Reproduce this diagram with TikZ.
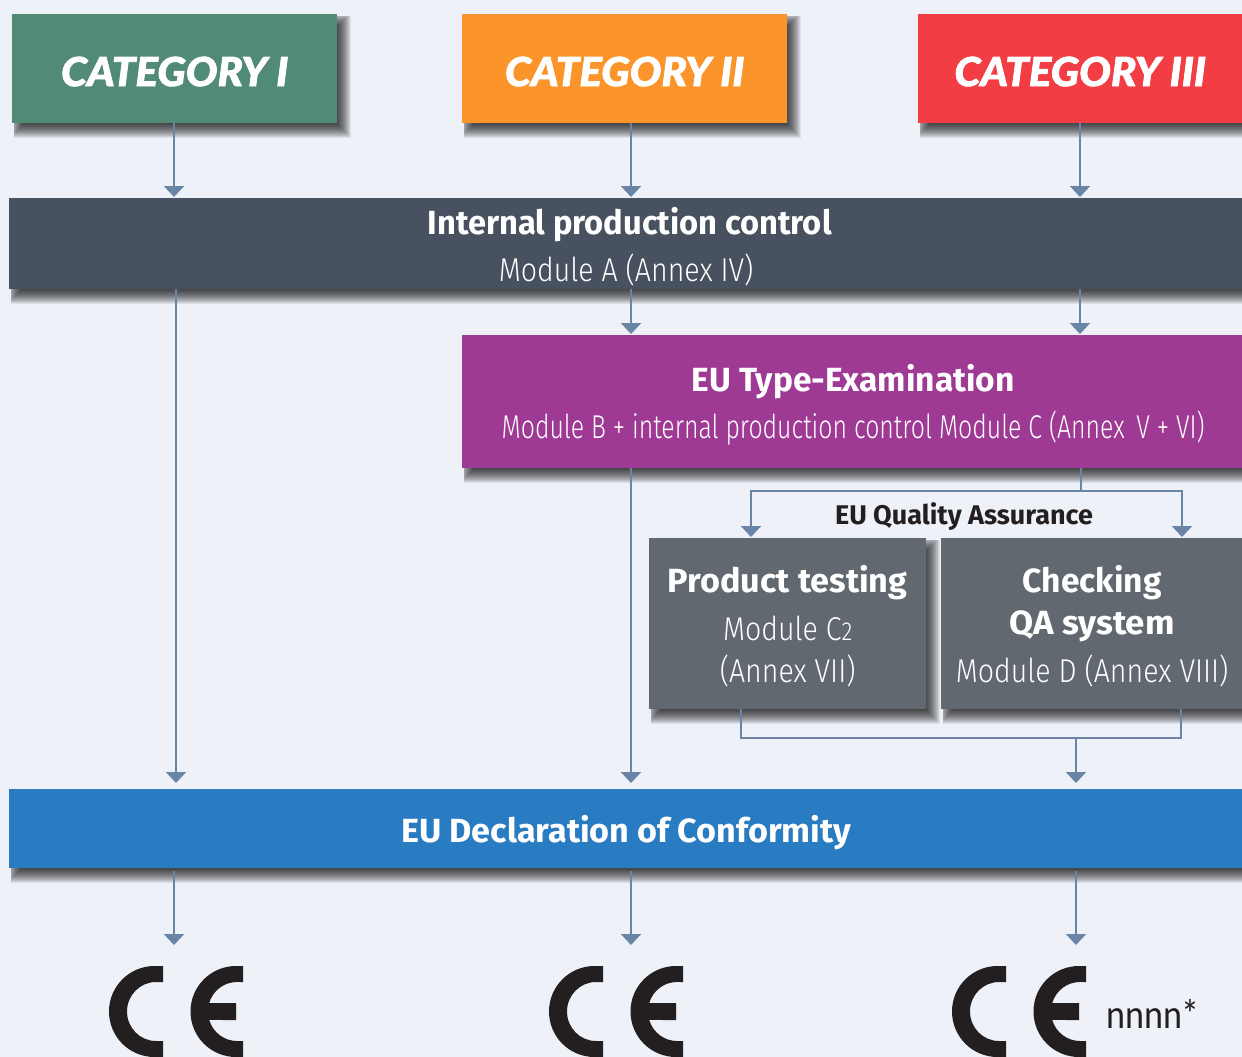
\documentclass[tikz,border=0pt]{standalone}
\usepackage{fontspec}
\usepackage{graphicx}
\usetikzlibrary{arrows.meta,calc}
\setmainfont{Fira Sans}
\newfontfamily\catfont[FakeBold=2,FakeStretch=1.05]{Lato Black Italic}
\newfontfamily\headfont{Fira Sans}
\newfontfamily\bodyfont[FakeStretch=0.865]{Fira Sans Light}
\newfontfamily\markfont[FakeStretch=0.88]{Carlito}
\newcommand{\hd}[1]{{\headfont\bfseries\fontsize{33.5}{33.5}\selectfont #1}}
\newcommand{\hdx}[2]{{\headfont\bfseries\fontsize{33.5}{33.5}\selectfont\scalebox{#1}[1]{#2}}}
\newcommand{\bd}[1]{{\bodyfont\fontsize{33}{33}\selectfont #1}}
\newcommand{\lift}[1]{\rule{0pt}{#1pt}}
\newcommand{\softshadow}[4]{%
  \foreach \d in {8,7,...,-6}{%
    \fill[black,opacity=.075] ({#1+max(2,6-\d)},{#2+max(2,7-\d)}) rectangle ({#1+#3+6+\d},{#2+#4+7+\d});
  }}
\definecolor{bgc}{HTML}{EEF1F7}
\definecolor{greenc}{HTML}{528B75}
\definecolor{orangec}{HTML}{FB952B}
\definecolor{redc}{HTML}{F23D45}
\definecolor{darkc}{HTML}{475160}
\definecolor{purplec}{HTML}{9E3A94}
\definecolor{greyc}{HTML}{626870}
\definecolor{bluec}{HTML}{2A7CC2}
\definecolor{linec}{HTML}{6A84A6}
\definecolor{inkc}{HTML}{231F20}
\tikzset{
  box/.style={rectangle,anchor=north west,inner sep=0pt,text=white,align=center,
    font=\fontsize{33}{42}\selectfont},
  cathead/.style={box,font=\catfont\fontsize{40}{40}\selectfont},
  conn/.style={draw=linec,line width=2.4pt},
  arr/.style={conn,-{Triangle[width=20pt,length=11pt,fill=linec]}},
  cemark/.pic={
    \fill[inkc] (54,0) -- (45.5,0) arc[start angle=270,end angle=90,radius=45.5] -- (54,91)
      -- (54,75) -- (47,75) arc[start angle=90,end angle=270,x radius=29,y radius=29.5] -- (54,16) -- cycle;
    \fill[inkc] (134,0) -- (127,0) arc[start angle=270,end angle=90,radius=45.5] -- (134,91)
      -- (134,75) -- (128,75) arc[start angle=90,end angle=163.3,x radius=29,y radius=29.5]
      -- (127,54) -- (127,37) -- (100.2,37) arc[start angle=196.7,end angle=270,x radius=29,y radius=29.5]
      -- (134,16) -- cycle;
  },
}
\begin{document}
\begin{tikzpicture}[x=1pt,y=-1pt]
\clip (0,0) rectangle (1242,1057);
\fill[bgc] (0,0) rectangle (1242,1057);

\coordinate (colA) at (174,0);
\coordinate (colAb) at (176,0);
\coordinate (colB) at (631,0);
\coordinate (colC) at (1080,0);
\coordinate (colD) at (1076,0);
\coordinate (colE) at (1081,0);

\softshadow{12}{14}{325}{109}
\node[cathead,fill=greenc,minimum width=325pt,minimum height=109pt] (cat1) at (12,14) {\lift{35}CATEGORY I};
\softshadow{462}{14}{325}{109}
\node[cathead,fill=orangec,minimum width=325pt,minimum height=109pt] (cat2) at (462,14) {\lift{35}CATEGORY II};
\softshadow{918}{14}{324}{109}
\node[cathead,fill=redc,minimum width=324pt,minimum height=109pt] (cat3) at (918,14) {\lift{35}CATEGORY III};

\softshadow{9}{198}{1241}{91}
\node[box,fill=darkc,minimum width=1241pt,minimum height=91pt] (internal) at (9,198)
  {\lift{33}\hdx{.975}{Internal production control}\\[5pt]\hspace*{-7pt}\bd{Module A (Annex IV)}};
\softshadow{462}{335}{782}{133}
\node[box,fill=purplec,minimum width=782pt,minimum height=133pt] (type) at (462,335)
  {\lift{33}\hd{EU Type-Examination}\\[5pt]\bd{\scalebox{.87}[1]{Module B + internal production control Module C (Annex\, V + VI)}}};
\softshadow{649}{538}{277}{171}
\node[box,fill=greyc,minimum width=277pt,minimum height=171pt] (test) at (649,538)
  {\lift{33}\hdx{1.02}{Product testing}\\[6pt]\bd{Module C{\fontsize{26}{26}\selectfont 2}}\\\bd{(Annex VII)}};
\softshadow{941}{538}{302}{171}
\node[box,fill=greyc,minimum width=302pt,minimum height=171pt] (qa) at (941,538)
  {\lift{33}\hd{Checking}\\\hdx{1.04}{QA system}\\[6pt]\bd{Module D (Annex VIII)}};
\softshadow{9}{789}{1234}{79}
\node[box,fill=bluec,minimum width=1234pt,minimum height=79pt] (decl) at (9,789)
  {\lift{35}\hdx{1.02}{EU Declaration of Conformity}};

\node[inner sep=0pt,text=inkc,font=\headfont\bfseries\fontsize{27}{27}\selectfont] (qalabel) at (964,516.5) {EU Quality Assurance};

\pic (ce1) at (109,966) {cemark};
\pic (ce2) at (549,966) {cemark};
\pic (ce3) at (952,966) {cemark};
\coordinate (ceA) at (174,945);
\coordinate (ceB) at (631,945);
\coordinate (ceC) at (1076,945);
\node[inner sep=0pt,anchor=base west,text=inkc,font=\markfont\fontsize{41}{41}\selectfont] (nb) at (1106,1028) {nnnn*};

\coordinate (splitL) at (751,491);
\coordinate (splitR) at (1182,491);
\coordinate (mergeL) at (741,738);
\coordinate (mergeR) at (1181,738);

\draw[arr] (cat1.south -| colA) -- ([yshift=1pt]internal.north -| colA);
\draw[arr] (cat2.south -| colB) -- ([yshift=1pt]internal.north -| colB);
\draw[arr] (cat3.south -| colC) -- ([yshift=1pt]internal.north -| colC);

\draw[arr] (internal.south -| colAb) -- ([yshift=6pt]decl.north -| colAb);
\draw[arr] (internal.south -| colB) -- ([yshift=1pt]type.north -| colB);
\draw[arr] (internal.south -| colC) -- ([yshift=1pt]type.north -| colC);
\draw[arr] (type.south -| colB) -- ([yshift=6pt]decl.north -| colB);

\draw[conn] (type.south -| colE) -- (splitL -| colE);
\draw[arr] (splitR -| colE) -- (splitL) -- ([yshift=1pt]test.north -| splitL);
\draw[arr] (splitL -| colE) -- (splitR) -- ([yshift=1pt]qa.north -| splitR);

\draw[conn] (test.south -| mergeL) -- (mergeL) -- (mergeR) -- (qa.south -| mergeR);
\draw[arr] (mergeL -| colD) -- ([yshift=6pt]decl.north -| colD);

\draw[arr,shorten <=3pt] (decl.south -| colA) -- (ceA);
\draw[arr,shorten <=3pt] (decl.south -| colB) -- (ceB);
\draw[arr,shorten <=3pt] (decl.south -| colD) -- (ceC);
\end{tikzpicture}
\end{document}
